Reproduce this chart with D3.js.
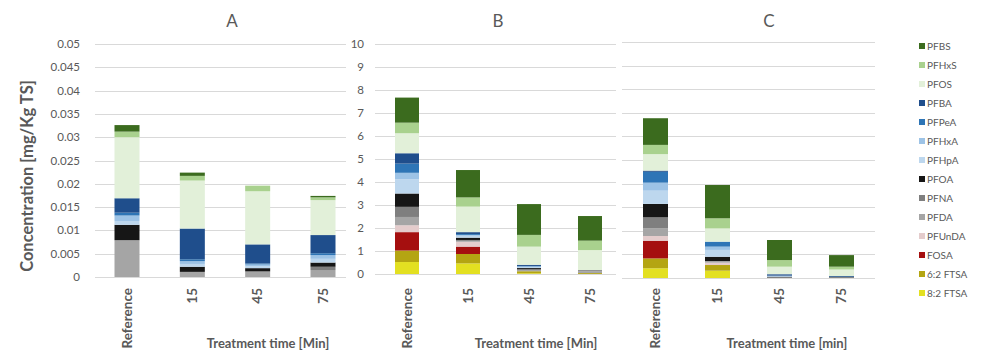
<!DOCTYPE html>
<html><head><meta charset="utf-8">
<script src="https://cdn.jsdelivr.net/npm/d3@7"></script>
<style>body{margin:0;background:#fff}svg{display:block;font-family:Lato,"Open Sans",sans-serif}</style>
</head><body><svg id="c" width="982" height="361"></svg>
<script>
const categories = ["Reference","15","45","75"];
const compounds = ["PFBS","PFHxS","PFOS","PFBA","PFPeA","PFHxA","PFHpA","PFOA","PFNA","PFDA","PFUnDA","FOSA","6:2 FTSA","8:2 FTSA"];
const colors = ["#3b6b1e","#a9d18e","#e2f0d9","#1f4e8c","#2e75b6","#9dc3e6","#bdd7ee","#161616","#7f7f7f","#a5a5a5","#e4cccc","#a50f0f","#b4a512","#e3e021"];
// rows follow compounds order; columns follow categories
const valuesA = [
  [0.0014,0.0007,0,0.0003],
  [0.0012,0.0010,0.0012,0.0006],
  [0.0131,0.0103,0.0114,0.0075],
  [0.0031,0.0066,0.0041,0.0039],
  [0.0006,0.0004,0.0002,0.0004],
  [0.0012,0.0006,0.0004,0.0008],
  [0.0008,0.0006,0.0004,0.0008],
  [0.0033,0.0011,0.0007,0.0009],
  [0,0,0,0.0007],
  [0.0079,0.0011,0.0012,0.0015],
  [0,0,0,0],[0,0,0,0],[0,0,0,0],[0,0,0,0]
];
const valuesB = [
  [1.09,1.19,1.34,1.07],
  [0.46,0.40,0.51,0.41],
  [0.87,1.11,0.79,0.87],
  [0.45,0.08,0.05,0],
  [0.40,0.04,0.02,0],
  [0.28,0.04,0.03,0],
  [0.62,0.08,0.04,0],
  [0.58,0.10,0.04,0],
  [0.44,0.04,0.05,0.05],
  [0.36,0.04,0.05,0.08],
  [0.30,0.21,0,0],
  [0.80,0.32,0,0],
  [0.50,0.41,0.09,0.04],
  [0.52,0.46,0.03,0]
];
const valuesC = [
  [1.13,1.41,0.85,0.49],
  [0.39,0.43,0.28,0.12],
  [0.70,0.56,0.32,0.28],
  [0.05,0,0.06,0.04],
  [0.46,0.21,0,0],
  [0.34,0.14,0.04,0],
  [0.56,0.29,0,0],
  [0.57,0.18,0,0],
  [0.47,0,0.06,0.04],
  [0.32,0.07,0,0],
  [0.20,0.10,0,0],
  [0.75,0,0,0],
  [0.42,0.24,0,0],
  [0.41,0.31,0,0]
];
const ticksA = ["0","0.005","0.01","0.015","0.02","0.025","0.03","0.035","0.04","0.045","0.05"];
const ticksB = ["0","1","2","3","4","5","6","7","8","9","10"];
const xTitles = ["Treatment time [Min]","Treatment time [Min]","Treatment time [min]"];
const panelTitles = ["A","B","C"];

const svg = d3.select("#c");
const txt = "#595959";
const grid = "#d9d9d9";
const color = d3.scaleOrdinal().domain(compounds).range(colors);

const panels = [
  {vals:valuesA, max:0.05, y0:277, y1:44, c0:127, c1:323, bw:25, g0:95, g1:346, ticks:ticksA, lx:80, tx:232, xt:268},
  {vals:valuesB, max:10, y0:274, y1:44, c0:407, c1:590, bw:24, g0:375, g1:616, ticks:ticksB, lx:364, tx:498, xt:536},
  {vals:valuesC, max:10, y0:278, y1:42, c0:655.5, c1:841.5, bw:25, g0:622, g1:875, ticks:null, lx:0, tx:769, xt:787}
];

panels.forEach((p,pi)=>{
  const g = svg.append("g");
  const y = d3.scaleLinear().domain([0,p.max]).range([p.y0,p.y1]);
  const x = d3.scalePoint().domain(categories).range([p.c0,p.c1]);
  const tv = d3.range(11).map(i=>i*p.max/10);
  g.selectAll("line.grid").data(tv).join("line")
    .attr("x1",p.g0).attr("x2",p.g1)
    .attr("y1",d=>Math.round(y(d))+0.5).attr("y2",d=>Math.round(y(d))+0.5)
    .attr("stroke",grid).attr("stroke-width",1);
  if(p.ticks){
    g.selectAll("text.yt").data(tv).join("text")
      .attr("x",p.lx).attr("y",d=>y(d)).attr("dy","0.35em")
      .attr("text-anchor","end").attr("fill",txt).attr("font-size",11.5)
      .text((d,i)=>p.ticks[i]);
  }
  const rows = categories.map((c,ci)=>{
    const o={cat:c};
    compounds.forEach((k,ki)=>o[k]=p.vals[ki][ci]);
    return o;
  });
  const stack = d3.stack().keys(compounds.slice().reverse())(rows);
  g.selectAll("g.s").data(stack).join("g")
    .attr("fill",d=>color(d.key))
    .selectAll("rect").data(d=>d).join("rect")
    .attr("x",d=>x(d.data.cat)-p.bw/2).attr("width",p.bw)
    .attr("y",d=>y(d[1])).attr("height",d=>Math.max(0,y(d[0])-y(d[1])));
  g.selectAll("text.xl").data(categories).join("text")
    .attr("transform",d=>`translate(${x(d)},288) rotate(-90)`)
    .attr("dy","0.35em").attr("text-anchor","end")
    .attr("fill",txt).attr("font-size",13.5).attr("font-weight","bold")
    .text(d=>d);
  g.append("text").attr("x",p.xt).attr("y",348).attr("text-anchor","middle")
    .attr("fill",txt).attr("font-size",13).attr("font-weight","bold").text(xTitles[pi]);
  g.append("text").attr("x",p.tx).attr("y",27).attr("text-anchor","middle")
    .attr("fill",txt).attr("font-size",17).text(panelTitles[pi]);
});

svg.append("text").attr("transform","translate(33,176) rotate(-90)")
  .attr("text-anchor","middle").attr("fill",txt).attr("font-size",16.5).attr("font-weight","bold")
  .text("Concentration [mg/Kg TS]");

const lg = svg.append("g");
compounds.forEach((k,i)=>{
  const yy = 46 + i*19;
  lg.append("rect").attr("x",919).attr("y",yy-3).attr("width",6).attr("height",6).attr("fill",color(k));
  lg.append("text").attr("x",927).attr("y",yy).attr("dy","0.35em").attr("fill",txt).attr("font-size",10).text(k);
});
</script></body></html>
